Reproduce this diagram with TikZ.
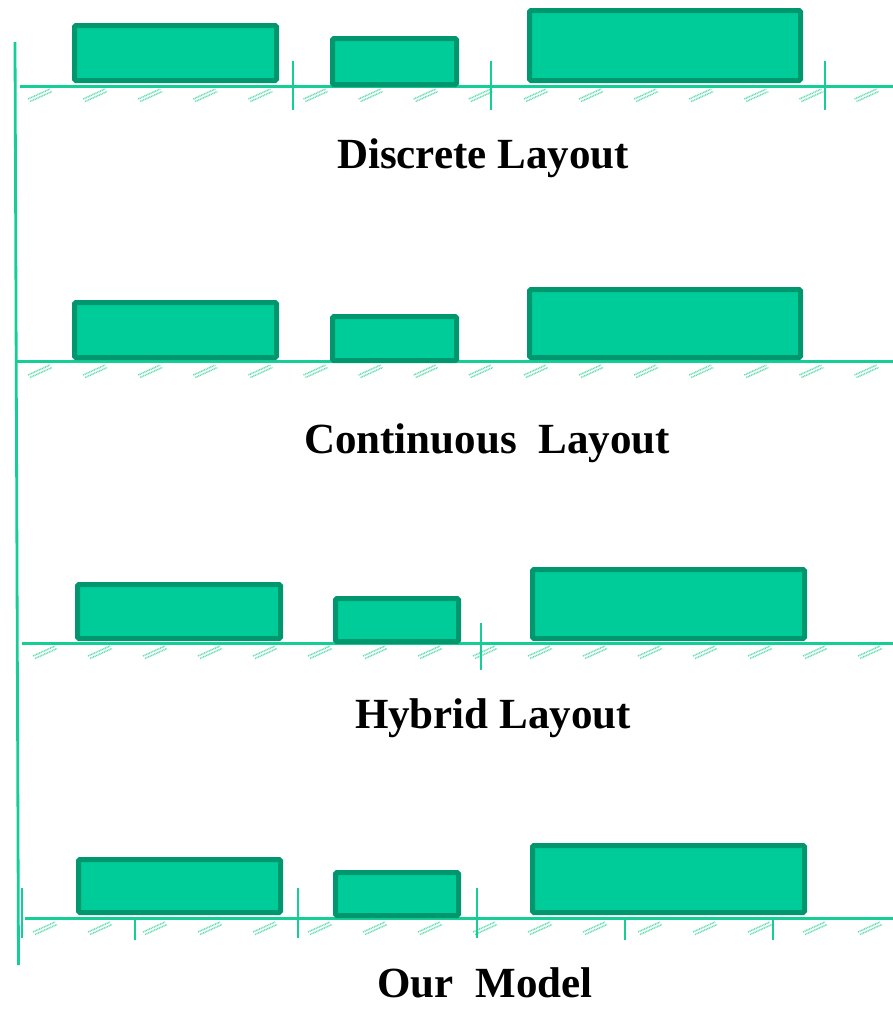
\documentclass[tikz,border=0pt]{standalone}
\usepackage{fontspec}
\setmainfont{Liberation Serif}
\definecolor{boxfill}{RGB}{0,204,153}
\definecolor{boxedge}{RGB}{0,150,110}
\definecolor{axis}{RGB}{20,206,150}
\definecolor{lbl}{RGB}{100,222,175}
\tikzset{
  box/.style={draw=boxedge, fill=boxfill, line width=5pt, rounded corners=1.5pt, inner sep=0pt},
  axisline/.style={draw=axis, line width=3pt},
  tickline/.style={draw=axis, line width=2.8pt},
  vline/.style={draw=axis, line width=2.8pt},
  ticklbl/.style={draw=lbl, line width=1.5pt, dash pattern=on 1pt off 0.7pt},
  title/.style={font=\fontsize{43}{50}\selectfont\bfseries, anchor=base, inner sep=0pt}
}
\newcommand\lblmark[2]{%
  \draw[ticklbl] ({#1-12},{#2+4}) -- ({#1+10},{#2-6});
  \draw[ticklbl] ({#1-10},{#2+6.5}) -- ({#1+12},{#2-3.5});
}
\begin{document}
\begin{tikzpicture}[x=1pt,y=-1pt]
\useasboundingbox (0,0) rectangle (893,1013);
% left vertical line
\coordinate (vtop) at (15,42);
\coordinate (vbot) at (18.5,965);
\draw[vline] (vtop) -- (vbot);

% ---------- Panel 1: Discrete ----------
\coordinate (a1s) at (20,86); \coordinate (a1e) at (893,86);
\draw[axisline] (a1s) -- (a1e);
\foreach \k in {0,...,15}{ \lblmark{40+55.1*\k}{95} }
\foreach \x in {293,491,825}{
  \draw[tickline] (\x,61) -- (\x,110);
}
\node[box, minimum width=202pt, minimum height=55pt] (d1) at (175.5,53) {};
\node[box, minimum width=124pt, minimum height=46pt] (d2) at (394.5,61.5) {};
\node[box, minimum width=271pt, minimum height=70pt] (d3) at (665,45.5) {};
\node[title] (t1) at (483,168) {Discrete Layout};

% ---------- Panel 2: Continuous ----------
\coordinate (a2s) at (16,361); \coordinate (a2e) at (893,361);
\draw[axisline] (a2s) -- (a2e);
\foreach \k in {0,...,15}{ \lblmark{40+55.1*\k}{371} }
\node[box, minimum width=202pt, minimum height=55pt] (c1) at (175.5,330) {};
\node[box, minimum width=124pt, minimum height=44pt] (c2) at (394.5,338.5) {};
\node[box, minimum width=271pt, minimum height=68pt] (c3) at (665,323.5) {};
\node[title] (t2) at (487,453) {Continuous\ \ Layout};

% ---------- Panel 3: Hybrid ----------
\coordinate (a3s) at (22,643); \coordinate (a3e) at (893,643);
\draw[axisline] (a3s) -- (a3e);
\foreach \k in {0,...,15}{ \lblmark{45+55*\k}{652} }
\draw[tickline] (481,623) -- (481,670);
\node[box, minimum width=203pt, minimum height=54pt] (h1) at (179,611.5) {};
\node[box, minimum width=123pt, minimum height=43pt] (h2) at (397,620) {};
\node[box, minimum width=272pt, minimum height=69pt] (h3) at (668.5,604) {};
\node[title] (t3) at (493,728) {Hybrid Layout};

% ---------- Panel 4: Our Model ----------
\coordinate (a4s) at (25,918); \coordinate (a4e) at (893,918);
\draw[axisline] (a4s) -- (a4e);
\foreach \k in {0,...,15}{ \lblmark{45+55*\k}{928} }
\foreach \x in {22,298,477}{
  \draw[tickline] (\x,888) -- (\x,938);
}
\foreach \x in {135,625,773}{
  \draw[tickline] (\x,918) -- (\x,940);
}
\node[box, minimum width=202pt, minimum height=53pt] (m1) at (179.5,886) {};
\node[box, minimum width=123pt, minimum height=43pt] (m2) at (397,894) {};
\node[box, minimum width=272pt, minimum height=67pt] (m3) at (668.5,879) {};
\node[title] (t4) at (485,997) {Our\ \ Model};
\end{tikzpicture}
\end{document}
